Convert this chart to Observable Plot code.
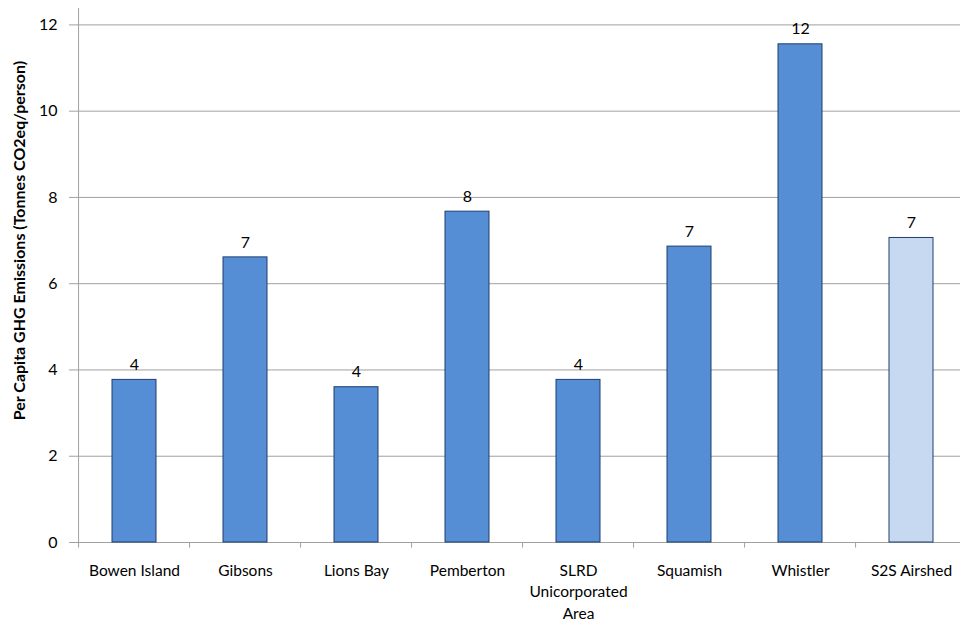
<!DOCTYPE html>
<html>
<head>
<meta charset="utf-8">
<script src="https://cdn.jsdelivr.net/npm/d3@7"></script>
<script src="https://cdn.jsdelivr.net/npm/@observablehq/plot@0.6"></script>
<style>
  html, body { margin: 0; padding: 0; background: #fff; overflow: hidden; }
  #chart svg { display: block; }
</style>
</head>
<body>
<div id="chart"></div>
<script>
const categories = ["Bowen Island", "Gibsons", "Lions Bay", "Pemberton", "SLRD Unicorporated Area", "Squamish", "Whistler", "S2S Airshed"];
const tickLabels = ["Bowen Island", "Gibsons", "Lions Bay", "Pemberton", "SLRD\nUnicorporated\nArea", "Squamish", "Whistler", "S2S Airshed"];
const values = [3.77, 6.61, 3.60, 7.67, 3.77, 6.86, 11.55, 7.06];
const isTotal = [false, false, false, false, false, false, false, true];
const yTicks = [0, 2, 4, 6, 8, 10, 12];
const yTitle = "Per Capita GHG Emissions (Tonnes CO2eq/person)";

const data = categories.map((c, i) => ({category: c, value: values[i], total: isTotal[i], label: tickLabels[i]}));
const labelOf = new Map(categories.map((c, i) => [c, tickLabels[i]]));

const font = "Lato, 'Open Sans', sans-serif";
const gray = "#a0a0a0";
const xRange = [75, 970];
const step = (xRange[1] - xRange[0]) / categories.length;

const chart = Plot.plot({
  width: 960,
  height: 621,
  marginLeft: 75,
  marginRight: 0,
  marginTop: 8,
  marginBottom: 79,
  style: {fontFamily: font, fontSize: "16px", color: "#000", background: "#fff"},
  x: {domain: categories, range: xRange, paddingInner: 0.6, paddingOuter: 0.3},
  y: {domain: [0, 12.38]},
  marks: [
    Plot.gridY(yTicks.filter(d => d > 0), {stroke: gray, strokeOpacity: 1, strokeWidth: 1}),
    Plot.ruleY([0], {stroke: gray, strokeWidth: 1}),
    Plot.ruleX([categories[0]], {x: d => d, dx: -step / 2, y1: 0, y2: 12.38, stroke: gray, strokeWidth: 1}),
    Plot.ruleX(categories, {x: d => d, dx: -step / 2, y1: 0, y2: -0.13, stroke: gray, strokeWidth: 1}),
    Plot.axisY({ticks: yTicks, tickSize: 6, tickPadding: 12, label: null, fontSize: 16, stroke: gray}),
    Plot.axisX({tickSize: 0, tickPadding: 18, label: null, fontSize: 15.5, lineHeight: 1.39, tickFormat: d => labelOf.get(d)}),
    Plot.barY(data, {x: "category", y: "value", fill: d => d.total ? "#c6d9f1" : "#558ed5", stroke: "#1f3f6e", strokeWidth: 1}),
    Plot.text(data, {x: "category", y: "value", text: d => String(Math.round(d.value)), dy: -15, fontSize: 16, fill: "#000"}),
    Plot.text([yTitle], {text: d => d, frameAnchor: "left", textAnchor: "middle", y: () => 7, dx: -56, rotate: -90, fontWeight: "bold", fontSize: 16, fill: "#000"})
  ]
});
document.getElementById("chart").appendChild(chart);
</script>
</body>
</html>
